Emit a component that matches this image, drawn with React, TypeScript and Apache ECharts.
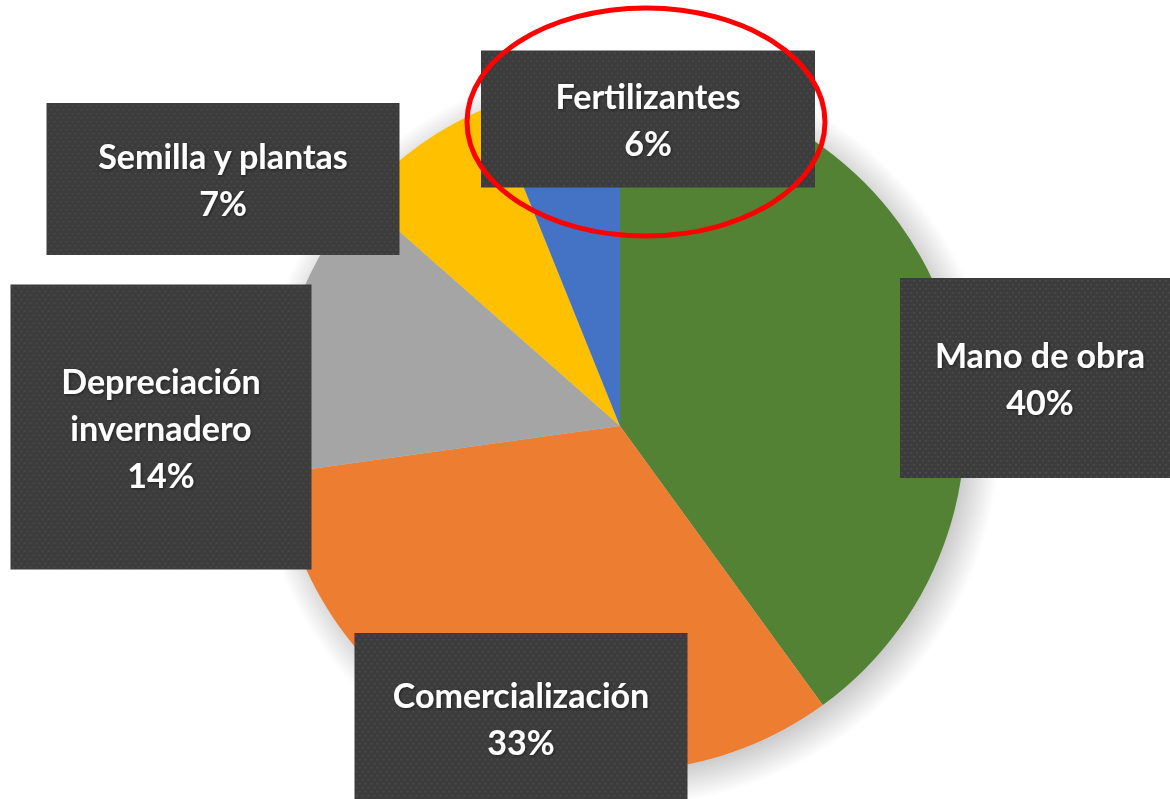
import React, { useEffect, useRef } from "react";
import * as echarts from "echarts";

const categories = ["Mano de obra", "Comercialización", "Depreciación invernadero", "Semilla y plantas", "Fertilizantes"];
const labelTexts = ["Mano de obra", "Comercialización", "Depreciación\ninvernadero", "Semilla y plantas", "Fertilizantes"];
const values = [40.0, 32.8, 13.7, 7.4, 6.1];
const colors = ["#548235", "#ED7D31", "#A5A5A5", "#FFC000", "#4472C4"];

// label box layout: [centerX, centerY, width, height]
const labelBoxes = [
  [1040, 378, 280, 200],
  [521, 718, 333, 170],
  [161, 427, 301, 285],
  [223, 179, 353, 152],
  [648, 119, 334, 137],
];

function dotPattern(w: number, h: number): string {
  const c = document.createElement("canvas");
  c.width = w;
  c.height = h;
  const ctx = c.getContext("2d")!;
  ctx.fillStyle = "#3c3c3c";
  ctx.fillRect(0, 0, w, h);
  ctx.fillStyle = "#4a4a4a";
  let row = 0;
  for (let y = 2; y < h; y += 4) {
    const off = row % 2 === 0 ? 1 : 4;
    for (let x = off; x < w; x += 6) ctx.fillRect(x, y, 2, 1.5);
    row++;
  }
  return c.toDataURL();
}

export default function App() {
  const ref = useRef<HTMLDivElement>(null);
  useEffect(() => {
    const chart = echarts.init(ref.current!, null, { renderer: "svg" });
    const center = [620, 426];
    const radius = 345;
    const shadowR = radius + 28;
    chart.setOption({
      animation: false,
      backgroundColor: "#ffffff",
      series: [
        {
          type: "pie",
          center,
          radius,
          startAngle: 90,
          clockwise: true,
          z: 2,
          labelLine: { show: false },
          itemStyle: { borderWidth: 0 },
          label: {
            show: true,
            position: "outside",
            formatter: (p: any) => `${labelTexts[p.dataIndex]}\n${Math.round(p.percent)}%`,
            color: "#ffffff",
            fontFamily: "Lato",
            fontWeight: "bold",
            fontSize: 34,
            lineHeight: 47,
            align: "center",
            verticalAlign: "middle",
            backgroundColor: "#3e3e3e",
            shadowBlur: 10,
            shadowColor: "rgba(0,0,0,0.45)",
            shadowOffsetX: 5,
            shadowOffsetY: 5,
            textShadowBlur: 3,
            textShadowColor: "rgba(0,0,0,0.5)",
            textShadowOffsetX: 1,
            textShadowOffsetY: 1,
          },
          labelLayout: (params: any) => {
            const b = labelBoxes[params.dataIndex];
            return { x: b[0], y: b[1], align: "center", verticalAlign: "middle" };
          },
          data: categories.map((name, i) => ({
            name,
            value: values[i],
            itemStyle: { color: colors[i] },
            label: {
              width: labelBoxes[i][2],
              height: labelBoxes[i][3],
              backgroundColor: { image: dotPattern(labelBoxes[i][2], labelBoxes[i][3]) },
            },
          })),
        },
      ],
      graphic: [
        {
          type: "circle",
          z: 0,
          silent: true,
          shape: { cx: center[0] + 7, cy: center[1] + 7, r: shadowR },
          style: {
            fill: new echarts.graphic.RadialGradient(0.5, 0.5, 0.5, [
              { offset: 0, color: "rgba(0,0,0,0.2)" },
              { offset: (radius - 8) / shadowR, color: "rgba(0,0,0,0.2)" },
              { offset: 1, color: "rgba(0,0,0,0)" },
            ]),
          },
        },
        {
          type: "ellipse",
          z: 100,
          shape: { cx: 646, cy: 122, rx: 179, ry: 114 },
          style: { fill: "transparent", stroke: "#ff0000", lineWidth: 5 },
        },
      ],
    });
    return () => chart.dispose();
  }, []);
  return <div ref={ref} style={{ position: "fixed", left: 0, top: 0, width: 1170, height: 799 }} />;
}
